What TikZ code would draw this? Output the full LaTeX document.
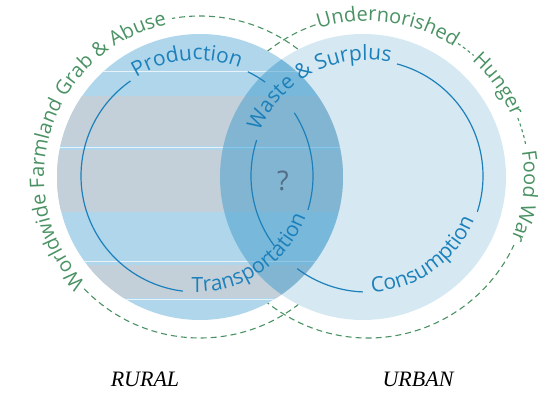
\documentclass[tikz,border=0pt]{standalone}
\usepackage{fontspec}
\newfontfamily\osans{Open Sans}
\newfontfamily\capserif{Liberation Serif}
\usetikzlibrary{decorations.text}
\definecolor{ringgreen}{RGB}{74,146,100}
\definecolor{loopblue}{RGB}{28,128,186}
\definecolor{ruralfill}{RGB}{176,214,236}
\definecolor{ruralgray}{RGB}{195,208,218}
\definecolor{urbanfill}{RGB}{214,233,243}
\definecolor{lensblue}{RGB}{66,156,204}
\definecolor{qgray}{RGB}{82,110,134}
\newcommand\ringfont{\osans\fontsize{20}{24}\selectfont}
\newcommand\loopfont{\osans\fontsize{21}{25}\selectfont}

\begin{document}
\begin{tikzpicture}[x=1pt,y=1pt,
  ringdash/.style={ringgreen,line width=1.1pt,dash pattern=on 6pt off 4pt},
  gapdash/.style={ringgreen,line width=1.1pt,dash pattern=on 3pt off 3pt},
  loopline/.style={loopblue,line width=1.2pt},
  ringtext/.style={decorate,decoration={text along path,text align=center,
    text color=ringgreen,text={|\ringfont|#1}}},
  looptext/.style={decorate,decoration={text along path,text align=center,
    text color=loopblue,text={|\loopfont|#1}}},
  areaname/.style={anchor=base,font=\capserif\itshape\fontsize{22}{26}\selectfont}]
 \useasboundingbox (0,0) rectangle (544,395);
 \coordinate (L) at (200,218);
 \coordinate (R) at (363,218);
 \coordinate (Ld) at (200,218);
 \coordinate (Rd) at (368,218);
 \coordinate (Li) at (197,219);
 \coordinate (Ri) at (367,219);

 % outer rings
 \draw[ringdash] (Ld) ++(-136:161pt) arc[start angle=-136,end angle=100,radius=161pt];
 \draw[ringdash] (Rd) ++(109:161pt) arc[start angle=109,end angle=335,radius=161pt];
 \draw[gapdash] (Rd) ++(56:161pt) arc[start angle=56,end angle=49,radius=161pt];
 \draw[gapdash] (Rd) ++(21.5:161pt) arc[start angle=21.5,end angle=11.5,radius=161pt];

 % fills
 \fill[urbanfill] (R) circle[radius=143pt];
 \fill[ruralfill] (L) circle[radius=143pt];
 \begin{scope}
  \clip (L) circle[radius=143pt];
  \fill[ruralgray] (0,249) rectangle (544,299);
  \fill[ruralgray] (0,183) rectangle (544,245);
  \fill[ruralgray] (0,97) rectangle (544,130);
  \foreach \y in {323,247,133,95}
   \draw[white,line width=1pt,opacity=.7] (0,\y) -- (544,\y);
 \end{scope}
 \begin{scope}
  \clip (R) circle[radius=143pt];
  \fill[lensblue,opacity=.5] (L) circle[radius=143pt];
 \end{scope}

 % ring texts
 \path[ringtext={Worldwide Farmland Grab {\&} Abuse}] (Ld) ++(235:156pt)
  arc[start angle=235,end angle=90,radius=156pt];
 \path[ringtext=Undernorished] (Rd) ++(112:156pt) arc[start angle=112,end angle=53,radius=156pt];
 \path[ringtext=Hunger] (Rd) ++(50:156pt) arc[start angle=50,end angle=21,radius=156pt];
 \path[ringtext=Food War] (Rd) ++(12:156pt) arc[start angle=12,end angle=-26,radius=156pt];

 % inner loops
 \draw[loopline] (Li) ++(125:116pt) arc[start angle=125,end angle=263,radius=116pt];
 \draw[loopline] (Li) ++(-17:116pt) arc[start angle=-17,end angle=33,radius=116pt];
 \draw[loopline] (Li) ++(54:116pt) arc[start angle=54,end angle=64,radius=116pt];
 \draw[loopline] (Ri) ++(-18:116pt) arc[start angle=-18,end angle=75,radius=116pt];
 \draw[loopline] (Ri) ++(162:116pt) arc[start angle=162,end angle=217,radius=116pt];
 \draw[loopline] (Ri) ++(233:116pt) arc[start angle=233,end angle=268,radius=116pt];

 \path[looptext=Production] (Li) ++(125:116pt) arc[start angle=125,end angle=65,radius=116pt];
 \path[looptext=Transportation] (Li) ++(-98:116pt) arc[start angle=-98,end angle=-15,radius=116pt];
 \path[looptext={Waste {\&} Surplus}] (Ri) ++(162:116pt) arc[start angle=162,end angle=74,radius=116pt];
 \path[looptext=Consumption] (Ri) ++(-92:116pt) arc[start angle=-92,end angle=-18,radius=116pt];

 \node[qgray,font=\osans\fontsize{27}{30}\selectfont] (query) at (283,214) {?};
 \node[areaname] (rural) at (145,8) {RURAL};
 \node[areaname] (urban) at (418,8) {URBAN};
\end{tikzpicture}
\end{document}
